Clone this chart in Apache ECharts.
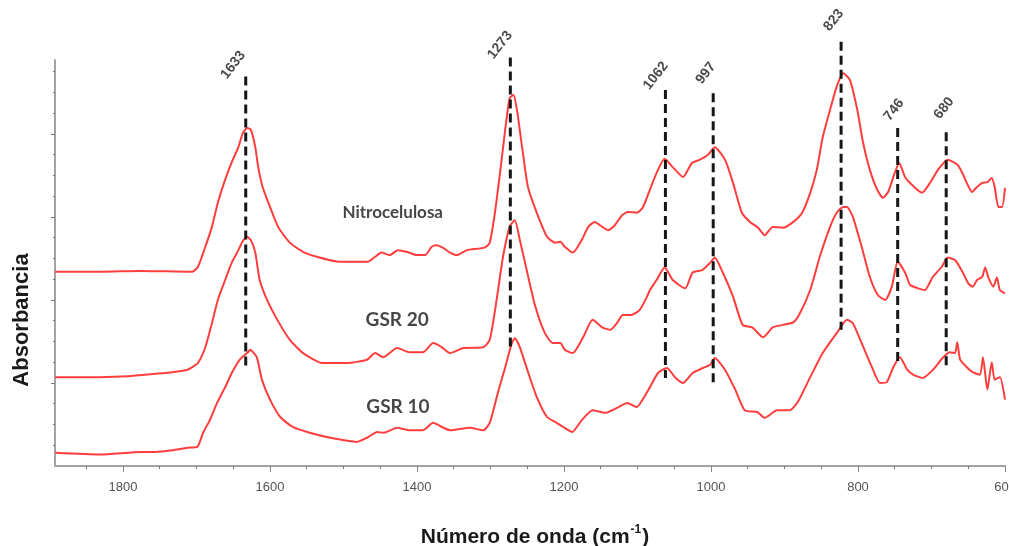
<!DOCTYPE html>
<html>
<head>
<meta charset="utf-8">
<script src="https://cdn.jsdelivr.net/npm/echarts@6/dist/echarts.min.js"></script>
<style>html,body{margin:0;padding:0;background:#fff}#c{width:1009px;height:546px}</style>
</head>
<body>
<div id="c"></div>
<script>
// ---- Data (wavenumber cm-1, absorbance in arbitrary offset units) ----
const nitroSpectrum = [[1892,2.34],[1831,2.34],[1777,2.35],[1706,2.34],[1698,2.40],[1688,2.64],[1679,2.88],[1671,3.17],[1661,3.45],[1652,3.66],[1643,3.84],[1637,4.01],[1631,4.07],[1626,4.05],[1620,3.84],[1616,3.60],[1610,3.36],[1600,3.12],[1589,2.88],[1573,2.69],[1555,2.58],[1536,2.52],[1505,2.46],[1467,2.46],[1457,2.52],[1448,2.57],[1437,2.54],[1426,2.60],[1414,2.58],[1400,2.54],[1389,2.54],[1380,2.64],[1373,2.66],[1365,2.63],[1355,2.57],[1346,2.54],[1332,2.60],[1308,2.63],[1301,2.69],[1294,3.05],[1287,3.53],[1280,4.05],[1274,4.43],[1269,4.47],[1264,4.29],[1257,3.84],[1249,3.36],[1237,3.05],[1223,2.76],[1212,2.69],[1205,2.70],[1199,2.64],[1188,2.57],[1176,2.72],[1167,2.88],[1158,2.94],[1151,2.90],[1140,2.84],[1131,2.90],[1121,3.02],[1113,3.06],[1101,3.05],[1093,3.11],[1083,3.33],[1074,3.53],[1063,3.70],[1052,3.60],[1038,3.48],[1026,3.65],[1015,3.69],[1004,3.75],[995,3.84],[981,3.69],[970,3.41],[958,3.05],[947,2.94],[936,2.87],[927,2.78],[916,2.88],[902,2.87],[888,2.94],[876,3.05],[865,3.29],[856,3.57],[848,3.96],[838,4.29],[829,4.57],[820,4.73],[811,4.65],[801,4.29],[793,3.89],[784,3.57],[774,3.33],[766,3.23],[759,3.30],[750,3.53],[744,3.65],[736,3.48],[727,3.39],[713,3.29],[702,3.41],[691,3.57],[678,3.69],[665,3.63],[658,3.53],[652,3.41],[645,3.30],[638,3.36],[631,3.41],[624,3.42],[618,3.47],[614,3.36],[609,3.12],[604,3.12],[600,3.35]];

const gsr20Spectrum = [[1892,1.07],[1831,1.07],[1793,1.08],[1756,1.11],[1733,1.13],[1712,1.16],[1706,1.19],[1698,1.24],[1688,1.43],[1679,1.72],[1671,2.00],[1661,2.24],[1652,2.45],[1643,2.60],[1637,2.71],[1631,2.76],[1626,2.72],[1620,2.57],[1614,2.24],[1604,2.00],[1590,1.76],[1573,1.52],[1555,1.36],[1528,1.24],[1495,1.24],[1468,1.28],[1457,1.36],[1446,1.31],[1427,1.42],[1410,1.37],[1392,1.37],[1378,1.48],[1366,1.43],[1355,1.36],[1337,1.42],[1310,1.43],[1301,1.52],[1291,2.04],[1283,2.52],[1274,2.88],[1267,2.96],[1260,2.72],[1250,2.33],[1239,1.92],[1226,1.60],[1215,1.48],[1205,1.48],[1199,1.40],[1188,1.36],[1174,1.55],[1161,1.76],[1148,1.67],[1137,1.64],[1128,1.72],[1120,1.82],[1108,1.82],[1097,1.88],[1087,2.04],[1083,2.12],[1074,2.24],[1063,2.39],[1052,2.24],[1035,2.14],[1025,2.33],[1012,2.36],[1001,2.45],[995,2.51],[984,2.33],[970,2.04],[957,1.70],[944,1.67],[929,1.55],[916,1.67],[902,1.70],[888,1.73],[879,1.84],[865,2.12],[852,2.52],[838,2.88],[829,3.05],[820,3.12],[815,3.12],[807,3.00],[795,2.64],[784,2.28],[773,2.06],[763,2.00],[754,2.16],[746,2.46],[736,2.33],[729,2.18],[718,2.14],[709,2.12],[698,2.28],[686,2.40],[678,2.51],[668,2.48],[658,2.34],[650,2.20],[644,2.16],[638,2.24],[631,2.28],[627,2.39],[623,2.28],[616,2.16],[611,2.27],[607,2.12],[600,2.08]];

const gsr10Spectrum = [[1892,0.16],[1831,0.14],[1774,0.17],[1756,0.17],[1733,0.19],[1712,0.22],[1699,0.23],[1691,0.40],[1682,0.55],[1672,0.76],[1661,0.95],[1652,1.12],[1641,1.28],[1630,1.37],[1627,1.40],[1618,1.31],[1611,1.04],[1600,0.80],[1586,0.59],[1569,0.47],[1546,0.40],[1518,0.34],[1482,0.29],[1468,0.34],[1454,0.41],[1446,0.40],[1427,0.46],[1410,0.43],[1392,0.43],[1378,0.52],[1366,0.47],[1355,0.43],[1328,0.46],[1310,0.43],[1301,0.52],[1290,0.88],[1280,1.19],[1271,1.48],[1267,1.54],[1260,1.43],[1250,1.16],[1237,0.83],[1223,0.59],[1210,0.52],[1201,0.47],[1189,0.41],[1176,0.55],[1161,0.67],[1144,0.64],[1128,0.70],[1114,0.76],[1101,0.71],[1093,0.80],[1083,0.95],[1072,1.12],[1060,1.18],[1049,1.07],[1038,1.00],[1025,1.12],[1011,1.18],[1001,1.22],[995,1.30],[981,1.16],[967,0.92],[954,0.67],[937,0.65],[927,0.58],[910,0.67],[893,0.67],[882,0.77],[865,1.07],[848,1.36],[829,1.60],[815,1.76],[807,1.72],[795,1.48],[781,1.19],[770,1.00],[761,1.01],[752,1.19],[743,1.31],[733,1.16],[725,1.10],[712,1.06],[698,1.16],[684,1.31],[675,1.37],[668,1.36],[665,1.49],[661,1.28],[652,1.19],[644,1.13],[634,1.10],[630,1.31],[624,0.92],[618,1.25],[614,1.04],[607,1.07],[600,0.80]];

// peak markers: wavenumber, dashed line top/bottom, label anchor
const peakLabels = ['1633','1273','1062','997','823','746','680'];
const peakWn     = [1633, 1273, 1062, 997, 823, 746, 680];
const peakTop    = [4.69, 4.92, 4.53, 4.49, 5.11, 4.07, 4.02];
const peakBottom = [1.19, 1.43, 1.06, 1.00, 1.64, 1.22, 1.16];
const peakLabelWn  = [1650, 1287, 1075, 1007, 833, 751, 683];
const peakLabelAbs = [4.83, 5.07, 4.70, 4.73, 5.37, 4.29, 4.31];

const curveNames   = ['Nitrocelulosa', 'GSR 20', 'GSR 10'];
const curveNameWn  = [1433, 1427, 1426];
const curveNameAbs = [3.05, 1.76, 0.71];

const xMajorTicks = [600, 800, 1000, 1200, 1400, 1600, 1800];
const xMinorTicks = [650,700,750,850,900,950,1050,1100,1150,1250,1300,1350,1450,1500,1550,1650,1700,1750,1850];
const yMajorTicks = [1, 2, 3, 4];
const yMinorTicks = [0.25,0.5,0.75,1.25,1.5,1.75,2.25,2.5,2.75,3.25,3.5,3.75,4.25,4.5,4.75];

// ---- Chart ----
const chart = echarts.init(document.getElementById('c'), null, {renderer: 'canvas'});
const X_MIN = 600, X_MAX = 1892.5, Y_MIN = 0, Y_MAX = 4.89;
const curveColor = '#ff3d3d';
const axisGray = '#a3a3a3';

const series = [];
[nitroSpectrum, gsr20Spectrum, gsr10Spectrum].forEach((d, i) => {
  series.push({
    type: 'line', name: curveNames[i], data: d, showSymbol: false, symbol: 'none',
    smooth: 0.2, lineStyle: {color: curveColor, width: 2}, z: 3, clip: false
  });
});
peakWn.forEach((w, i) => {
  series.push({
    type: 'line', data: [[w, peakTop[i]], [w, peakBottom[i]]], symbol: 'none', clip: false,
    lineStyle: {color: '#161616', width: 3, type: [9, 5]}, z: 4
  });
});
series.push({
  type: 'scatter', symbolSize: 0, clip: false, z: 5,
  data: peakLabels.map((t, i) => [peakLabelWn[i], peakLabelAbs[i], t]),
  label: {
    show: true, position: 'inside', rotate: 52,
    formatter: p => p.value[2],
    fontFamily: 'Liberation Sans, Arial, sans-serif', fontWeight: 'bold', fontSize: 14, color: '#1a1a1a'
  }
});
series.push({
  type: 'scatter', symbolSize: 0, clip: false, z: 5,
  data: curveNames.map((t, i) => ({
    value: [curveNameWn[i], curveNameAbs[i], t],
    label: {fontSize: i === 0 ? 17 : 19}
  })),
  label: {
    show: true, position: 'inside',
    formatter: p => p.value[2],
    fontFamily: 'Lato, "Open Sans", sans-serif', fontWeight: 'bold', color: '#161616'
  }
});

chart.setOption({
  animation: false,
  backgroundColor: '#ffffff',
  grid: {left: 55, right: 4, top: 60, bottom: 80, containLabel: false, outerBoundsMode: 'none'},
  xAxis: [{
    type: 'value', inverse: true, min: X_MIN, max: X_MAX, interval: 200, position: 'bottom',
    axisLine: {show: true, lineStyle: {color: axisGray, width: 2}},
    axisTick: {show: true, customValues: xMajorTicks, length: 6, lineStyle: {color: '#888', width: 1}},
    axisLabel: {show: true, customValues: xMajorTicks, margin: 15, formatter: v => String(v),
      color: '#555', fontSize: 13, fontFamily: 'Liberation Sans Narrow, Liberation Sans, Arial, sans-serif'},
    splitLine: {show: false}
  }, {
    type: 'value', inverse: true, min: X_MIN, max: X_MAX, interval: 50, position: 'bottom', offset: 0,
    axisLine: {show: false},
    axisTick: {show: true, customValues: xMinorTicks, length: 3, inside: false, lineStyle: {color: '#777', width: 1}},
    axisLabel: {show: false}, splitLine: {show: false}
  }],
  yAxis: [{
    type: 'value', min: Y_MIN, max: Y_MAX, interval: 1, position: 'left',
    axisLine: {show: true, lineStyle: {color: axisGray, width: 2}},
    axisTick: {show: true, customValues: yMajorTicks, length: 4, lineStyle: {color: '#777', width: 1}},
    axisLabel: {show: false}, splitLine: {show: false}
  }, {
    type: 'value', min: Y_MIN, max: Y_MAX, interval: 0.25, position: 'left', offset: 0,
    axisLine: {show: false},
    axisTick: {show: true, customValues: yMinorTicks, length: 2, lineStyle: {color: '#777', width: 1}},
    axisLabel: {show: false}, splitLine: {show: false}
  }],
  graphic: [{
    type: 'text', x: 22, y: 320, rotation: Math.PI / 2,
    style: {text: 'Absorbancia', font: 'bold 22px "Liberation Sans", Arial, sans-serif',
      fill: '#1a1a1a', align: 'center', verticalAlign: 'middle'}
  }, {
    type: 'text', x: 535, y: 536,
    style: {
      text: '{a|Número de onda (cm}{s|-1}{a|)}',
      align: 'center', verticalAlign: 'middle',
      rich: {
        a: {font: 'bold 21px "Liberation Sans", Arial, sans-serif', fill: '#1a1a1a', lineHeight: 24, verticalAlign: 'bottom'},
        s: {font: 'bold 12px "Liberation Sans", Arial, sans-serif', fill: '#1a1a1a', lineHeight: 24, verticalAlign: 'top', padding: [0, 1, 0, 1]}
      }
    }
  }],
  series: series
});
</script>
</body>
</html>
